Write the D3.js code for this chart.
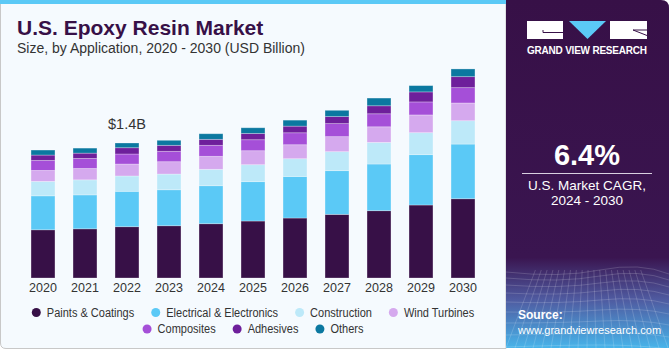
<!DOCTYPE html>
<html>
<head>
<meta charset="utf-8">
<script src="https://cdn.jsdelivr.net/npm/d3@7"></script>
<style>
  html, body { margin: 0; padding: 0; background: #ffffff; }
  svg { display: block; font-family: "Liberation Sans", Arial, sans-serif; }
</style>
</head>
<body>
<div id="viz"></div>
<script>
// chart data (USD Billion)
const years = ['2020', '2021', '2022', '2023', '2024', '2025', '2026', '2027', '2028', '2029', '2030'];
const segments = ['Paints & Coatings', 'Electrical & Electronics', 'Construction', 'Wind Turbines', 'Composites', 'Adhesives', 'Others'];
const segmentColors = ['#371047', '#5bc9f6', '#bde9f9', '#d5a9ee', '#a54fd8', '#6e1f9b', '#0b78a0'];
const paints = [0.500, 0.510, 0.532, 0.542, 0.563, 0.591, 0.622, 0.660, 0.698, 0.757, 0.822];
const electrical = [0.352, 0.352, 0.367, 0.373, 0.394, 0.408, 0.431, 0.453, 0.484, 0.522, 0.567];
const construction = [0.150, 0.156, 0.159, 0.163, 0.170, 0.176, 0.184, 0.197, 0.224, 0.228, 0.242];
const windTurbines = [0.114, 0.118, 0.124, 0.128, 0.135, 0.145, 0.145, 0.156, 0.162, 0.184, 0.184];
const composites = [0.104, 0.104, 0.104, 0.108, 0.114, 0.114, 0.124, 0.135, 0.135, 0.135, 0.159];
const adhesives = [0.055, 0.055, 0.065, 0.062, 0.062, 0.065, 0.069, 0.073, 0.083, 0.104, 0.114];
const others = [0.052, 0.052, 0.049, 0.052, 0.058, 0.059, 0.062, 0.065, 0.080, 0.065, 0.080];
const labelYear = '2022';
const labelText = '$1.4B';

const width = 670, height = 350;
const svg = d3.select('#viz').append('svg')
  .attr('width', width)
  .attr('height', height);

const defs = svg.append('defs');
const grad = defs.append('linearGradient')
  .attr('id', 'panelGrad')
  .attr('x1', 0).attr('y1', 0).attr('x2', 0).attr('y2', 1);
grad.append('stop').attr('offset', '0%').attr('stop-color', '#371047');
grad.append('stop').attr('offset', '74%').attr('stop-color', '#3a1550');
grad.append('stop').attr('offset', '86%').attr('stop-color', '#4f5aa0');
grad.append('stop').attr('offset', '100%').attr('stop-color', '#48b4ea');

// left card
svg.append('path')
  .attr('d', 'M0.5,0 L506,0 L506,348.5 L6,348.5 Q0.5,348.5 0.5,343 Z')
  .attr('fill', '#f5fafe')
  .attr('stroke', '#c8c8c8');
svg.append('rect')
  .attr('x', 0).attr('y', 0)
  .attr('width', 506).attr('height', 4)
  .attr('fill', '#5bc9f6');

// right panel
svg.append('path')
  .attr('d', 'M506,0 L661,0 Q669,0 669,8 L669,348 L506,348 Z')
  .attr('fill', 'url(#panelGrad)');

// wire grid at the bottom of the panel
const grid = svg.append('g')
  .attr('stroke', '#ffffff')
  .attr('stroke-opacity', 0.16)
  .attr('fill', 'none');
const gridRows = [272, 278, 285, 293, 302, 312, 323, 335, 347];
gridRows.forEach((gy, i) => {
  grid.append('path')
    .attr('d', `M506,${gy} Q560,${gy + 6 - i} 600,${gy - 2} T669,${gy + 2}`);
});
d3.range(506, 676, 9).forEach(gx => {
  grid.append('line')
    .attr('x1', gx + (gx - 590) * -0.35).attr('y1', 270)
    .attr('x2', gx).attr('y2', 348);
});

// title
svg.append('text')
  .attr('x', 17).attr('y', 35)
  .attr('fill', '#371047')
  .attr('font-size', 21)
  .attr('font-weight', 'bold')
  .text('U.S. Epoxy Resin Market');
svg.append('text')
  .attr('x', 17).attr('y', 53)
  .attr('fill', '#333333')
  .attr('font-size', 14)
  .text('Size, by Application, 2020 - 2030 (USD Billion)');

// stacked bars
const rows = years.map((y, i) => ({
  year: y,
  'Paints & Coatings': paints[i],
  'Electrical & Electronics': electrical[i],
  'Construction': construction[i],
  'Wind Turbines': windTurbines[i],
  'Composites': composites[i],
  'Adhesives': adhesives[i],
  'Others': others[i]
}));
const stack = d3.stack().keys(segments)(rows);

const x = d3.scaleBand()
  .domain(years)
  .range([22, 484])
  .paddingInner(0.43)
  .paddingOuter(0.215);
const y = d3.scaleLinear()
  .domain([0, 1.4])
  .range([278, 143]);
const color = d3.scaleOrdinal().domain(segments).range(segmentColors);

const layers = svg.append('g').selectAll('g')
  .data(stack)
  .enter().append('g')
  .attr('fill', d => color(d.key));

layers.selectAll('rect')
  .data(d => d)
  .enter().append('rect')
  .attr('x', d => x(d.data.year))
  .attr('y', d => y(d[1]))
  .attr('width', x.bandwidth())
  .attr('height', d => y(d[0]) - y(d[1]))
  .attr('stroke', '#ffffff')
  .attr('stroke-opacity', 0.35)
  .attr('stroke-width', 0.8);

// value label
const labelIdx = years.indexOf(labelYear);
svg.append('text')
  .attr('x', x(labelYear) + x.bandwidth() / 2)
  .attr('y', y(stack[stack.length - 1][labelIdx][1]) - 14)
  .attr('text-anchor', 'middle')
  .attr('fill', '#333333')
  .attr('font-size', 14.5)
  .text(labelText);

// x axis
const xAxis = svg.append('g')
  .attr('transform', 'translate(0,278)')
  .call(d3.axisBottom(x).tickSize(0).tickPadding(5));
xAxis.select('.domain').remove();
xAxis.selectAll('text')
  .attr('fill', '#333333')
  .attr('font-size', 12.5)
  .attr('font-family', '"Liberation Sans", Arial, sans-serif');

// legend (text squeezed a bit, the original face is narrower)
const legendRows = [segments.slice(0, 4), segments.slice(4)];
const legendY = [312.5, 329];
legendRows.forEach((items, r) => {
  const g = svg.append('g');
  let cx = 0;
  items.forEach(name => {
    const item = g.append('g').attr('transform', `translate(${cx},${legendY[r]})`);
    item.append('circle')
      .attr('cx', 4.5).attr('cy', 0).attr('r', 4.5)
      .attr('fill', color(name));
    const t = item.append('text')
      .attr('x', 15).attr('y', 4.3)
      .attr('fill', '#333333')
      .attr('font-size', 12.5)
      .text(name);
    const tw = t.node().getComputedTextLength() * 0.88;
    t.attr('textLength', tw).attr('lengthAdjust', 'spacingAndGlyphs');
    cx += 15 + tw + 17;
  });
  const w = cx - 17;
  g.attr('transform', `translate(${253 - w / 2},0)`);
});

// logo
const logo = svg.append('g');
logo.append('rect').attr('x', 527).attr('y', 21).attr('width', 36).attr('height', 18).attr('fill', '#ffffff');
logo.append('path').attr('d', 'M543,30 L543,32.5 L563,32.5').attr('stroke', '#371047').attr('stroke-width', 1).attr('fill', 'none');
logo.append('path').attr('d', 'M569,21 L606,21 L587.5,39 Z').attr('fill', '#5bc9f6');
logo.append('rect').attr('x', 610).attr('y', 21).attr('width', 37).attr('height', 18).attr('fill', '#ffffff');
logo.append('path').attr('d', 'M633,30 L647,35.5 M633,30 L647,30').attr('stroke', '#371047').attr('stroke-width', 1).attr('fill', 'none');
logo.append('text')
  .attr('x', 527).attr('y', 53.5)
  .attr('fill', '#ffffff')
  .attr('font-size', 10)
  .attr('font-weight', 'bold')
  .attr('textLength', 120)
  .attr('lengthAdjust', 'spacing')
  .text('GRAND VIEW RESEARCH');

// CAGR
svg.append('text')
  .attr('x', 587).attr('y', 165)
  .attr('text-anchor', 'middle')
  .attr('fill', '#ffffff')
  .attr('font-size', 29)
  .attr('font-weight', 'bold')
  .text('6.4%');
svg.append('line')
  .attr('x1', 522).attr('x2', 652)
  .attr('y1', 173.5).attr('y2', 173.5)
  .attr('stroke', '#d8d0e0')
  .attr('stroke-width', 1);
svg.append('text')
  .attr('x', 587).attr('y', 190)
  .attr('text-anchor', 'middle')
  .attr('fill', '#ffffff')
  .attr('font-size', 13.5)
  .text('U.S. Market CAGR,');
svg.append('text')
  .attr('x', 587).attr('y', 205)
  .attr('text-anchor', 'middle')
  .attr('fill', '#ffffff')
  .attr('font-size', 13.5)
  .text('2024 - 2030');

// source
svg.append('text')
  .attr('x', 518).attr('y', 319)
  .attr('fill', '#ffffff')
  .attr('font-size', 12)
  .attr('font-weight', 'bold')
  .text('Source:');
svg.append('text')
  .attr('x', 518).attr('y', 334)
  .attr('fill', '#ffffff')
  .attr('font-size', 11)
  .text('www.grandviewresearch.com');
</script>
</body>
</html>
